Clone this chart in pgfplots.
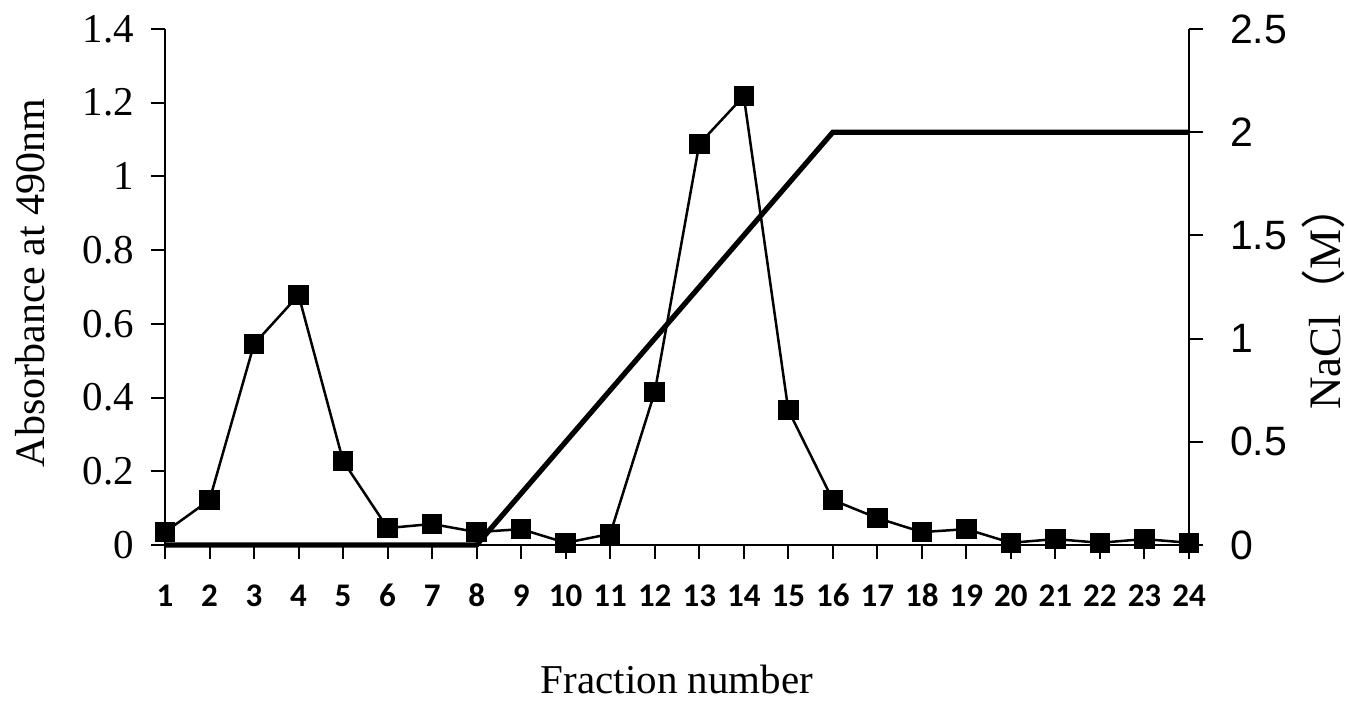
\documentclass[border=0pt]{standalone}
\usepackage{fontspec}
\setmainfont{Liberation Serif}
\newfontfamily\arialf{Liberation Sans}
\newfontfamily\calib{Carlito}
\newfontfamily\cjk{Noto Sans CJK SC}
\usepackage{pgfplots}
\pgfplotsset{compat=1.18}
\pgfplotstableread{
x y
1 0.035
2 0.122
3 0.545
4 0.678
5 0.228
6 0.046
7 0.057
8 0.035
9 0.043
10 0.006
11 0.030
12 0.415
13 1.088
14 1.218
15 0.366
16 0.122
17 0.073
18 0.035
19 0.043
20 0.006
21 0.016
22 0.006
23 0.016
24 0.006
}\absdata
\pgfplotstableread{
x y
1 0
8 0
10 0.5
16 2.0
24 2.0
}\nacldata
\begin{document}
\begin{tikzpicture}
\begin{axis}[
  scale only axis, width=512pt, height=258pt,
  at={(0,0)}, anchor=south west,
  xmin=1, xmax=24, ymin=0, ymax=1.4,
  axis x line*=bottom, axis y line*=left,
  axis line style={line width=1pt,-},
  xtick={1,...,24},
  ytick={0,0.2,0.4,0.6,0.8,1,1.2,1.4},
  tick align=outside, major tick length=7pt,
  tick style={line width=1pt, black},
  /pgf/number format/assume math mode=true,
  xticklabel style={font=\calib\bfseries\fontsize{16.5}{18}\selectfont, anchor=base, yshift=-24pt},
  yticklabel style={font=\fontsize{20.5}{24}\selectfont, xshift=-5pt},
  ylabel={Absorbance at 490nm},
  ylabel style={font=\fontsize{21}{24}\selectfont, at={(axis description cs:-0.1318,0.5078)}, anchor=center},
  xlabel={Fraction number},
  xlabel style={font=\fontsize{20.5}{24}\selectfont, at={(axis description cs:0.5,-0.2885)}, anchor=base, inner sep=0pt},
  clip=false,
]
\addplot[black, line width=1.25pt, mark=square*, mark size=4.5pt, mark options={solid}] table[x=x,y=y]{\absdata};
\end{axis}
\begin{axis}[
  scale only axis, width=512pt, height=258pt,
  at={(0,0)}, anchor=south west,
  xmin=1, xmax=24, ymin=0, ymax=2.5,
  axis x line=none, axis y line*=right,
  axis line style={line width=1pt,-},
  ytick={0,0.5,1,1.5,2,2.5},
  yticklabels={0,0.5,1,1.5,2,2.5},
  tick align=outside, major tick length=7pt,
  tick style={line width=1pt, black},
  yticklabel style={font=\arialf\fontsize{20.5}{24}\selectfont, xshift=10pt},
  ylabel={NaCl{\cjk （}M{\cjk ）}},
  ylabel style={font=\fontsize{22.5}{24}\selectfont, at={(axis description cs:1.1310,0.4800)}, anchor=center},
  clip=false,
]
\addplot[black, line width=2.6pt, no marks] table[x=x,y=y]{\nacldata};
\end{axis}
\pgfresetboundingbox
\path (-82.5pt,-79.5pt) rectangle (591.5pt,272.5pt);
\end{tikzpicture}
\end{document}
